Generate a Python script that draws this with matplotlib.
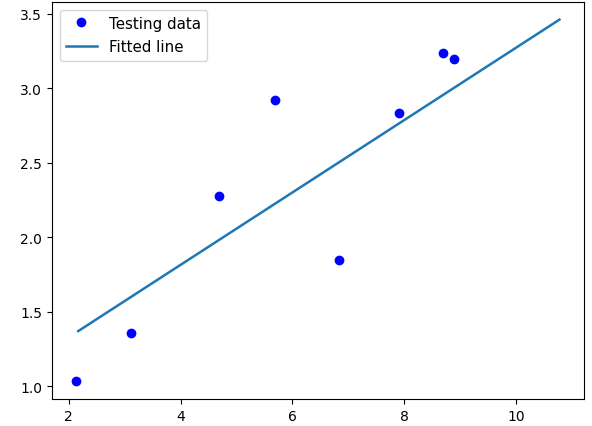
import matplotlib
matplotlib.use('Agg')
import matplotlib.pyplot as plt
import numpy as np

# testing data
test_x = [2.13, 3.11, 4.68, 5.69, 6.83, 7.91, 8.70, 8.89]
test_y = [1.036, 1.354, 2.275, 2.92, 1.846, 2.834, 3.24, 3.20]

# fitted line: range of training x, slope and intercept
fit_x = np.array([2.17, 10.78])
slope = 0.243
intercept = 0.842

fig = plt.figure(figsize=(5.92, 4.27), dpi=100)
ax = fig.add_axes([52/592, 1 - 400/427, (584-52)/592, (400-3)/427])

ax.plot(test_x, test_y, 'bo', label='Testing data')
ax.plot(fit_x, slope * fit_x + intercept, label='Fitted line', lw=1.8)

ax.set_xlim(1.70, 11.22)
ax.set_ylim(0.913, 3.58)
ax.set_xticks([2, 4, 6, 8, 10])
ax.set_yticks([1.0, 1.5, 2.0, 2.5, 3.0, 3.5])
ax.legend(loc='upper left', fontsize=10.8, handlelength=2.1, labelspacing=0.6)

fig.savefig('out.png', dpi=100)
